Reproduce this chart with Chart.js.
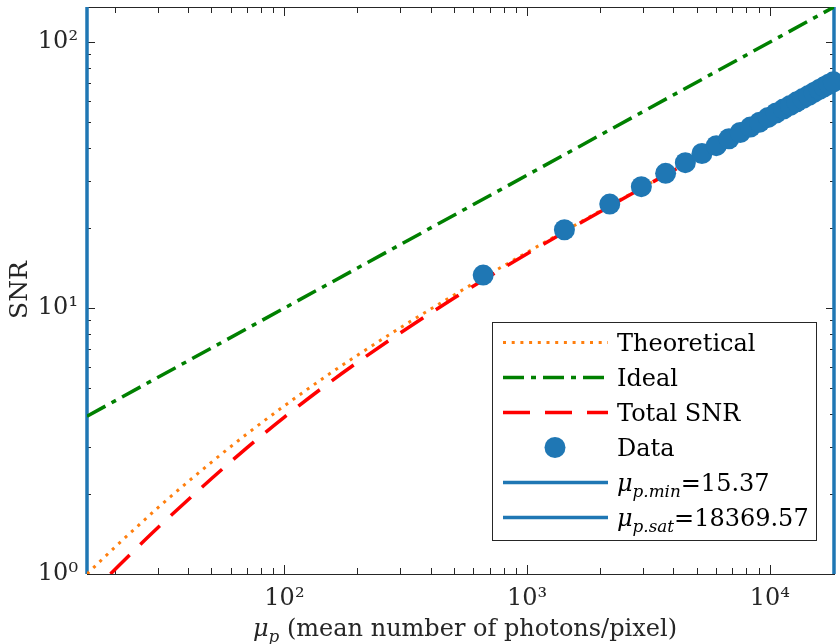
<!DOCTYPE html>
<html>
<head>
<meta charset="utf-8">
<script src="https://cdn.jsdelivr.net/npm/chart.js@4"></script>
<style>
  body { margin: 0; background: #fff; }
</style>
</head>
<body>
<canvas id="snrChart" width="840" height="644"></canvas>
<script>
// Photon range limits
const muMin = 15.37;
const muSat = 18369.57;

// Measured points
const dataMu = [659, 1424, 2189, 2954, 3719, 4484, 5249, 6014, 6779, 7544, 8309, 9074,
    9839, 10604, 11369, 12134, 12899, 13664, 14429, 15194, 15959, 16724, 17489, 18254];
const dataSnr = [13.3, 19.7, 24.6, 28.6, 32.1, 35.2, 38.1, 40.8, 43.3, 45.7, 47.9, 50.0,
    52.1, 54.1, 56.0, 57.8, 59.6, 61.3, 63.0, 64.7, 66.3, 67.9, 69.4, 70.9];

// Curves
const theoryMu = [15.37, 20, 25, 30, 50, 70, 100, 150, 200, 300, 500, 1000, 3000, 10000, 18369.57];
const theorySnr = [1.00, 1.26, 1.52, 1.77, 2.63, 3.36, 4.29, 5.58, 6.65, 8.43, 11.2, 16.2, 28.5, 52.4, 71.1];
const totalMu = [19.2, 25, 30, 50, 70, 100, 150, 200, 300, 500, 1000, 3000, 10000, 18369.57];
const totalSnr = [1.00, 1.27, 1.49, 2.28, 2.98, 3.89, 5.17, 6.25, 8.06, 10.9, 16.0, 28.4, 52.3, 71.2];
const idealMu = [15.37, 18369.57];
const idealSnr = [3.92, 135.5];

const yMin = 1;
const yMax = 135.5;

const legendLabels = ['Theoretical', 'Ideal', 'Total SNR', 'Data'];
const supers = { '0': '\u2070', '1': '\u00b9', '2': '\u00b2', '3': '\u00b3', '4': '\u2074' };

const FONT = '"DejaVu Serif", "Liberation Serif", serif';
const INK = '#262626';
const BLUE = '#1f77b4';

function pts(xs, ys) {
    return xs.map((x, i) => ({ x: x, y: ys[i] }));
}

function powLabel(v) {
    const e = Math.log10(v);
    if (Math.abs(e - Math.round(e)) > 1e-9) return '';
    return '10' + String(Math.round(e)).split('').map(c => supers[c]).join('');
}

// draw italic/sub pieces one after another
function mathWidth(ctx, parts, size) {
    let w = 0;
    parts.forEach(p => {
        ctx.font = (p.it ? 'italic ' : '') + (p.sub ? size * 0.7 : size) + 'px ' + FONT;
        w += ctx.measureText(p.t).width;
    });
    return w;
}
function drawMath(ctx, parts, x, y, size) {
    let cx = x;
    parts.forEach(p => {
        ctx.font = (p.it ? 'italic ' : '') + (p.sub ? size * 0.7 : size) + 'px ' + FONT;
        ctx.fillText(p.t, cx, y + (p.sub ? size * 0.25 : 0));
        cx += ctx.measureText(p.t).width;
    });
}

function niceTicks(scale) {
    return scale.ticks.map(t => t.value).filter(v => {
        const m = v / Math.pow(10, Math.floor(Math.log10(v) + 1e-9));
        return Math.abs(m - Math.round(m)) < 1e-6;
    });
}

const boxPlugin = {
    id: 'box',
    beforeDatasetsDraw(chart) {
        const ctx = chart.ctx;
        const a = chart.chartArea;
        const xs = chart.scales.x, ys = chart.scales.y;
        ctx.save();
        ctx.strokeStyle = INK;
        ctx.lineWidth = 1;
        ctx.strokeRect(a.left + 0.5, a.top + 0.5, a.right - a.left, a.bottom - a.top);
        ctx.beginPath();
        niceTicks(xs).forEach(v => {
            const px = Math.round(xs.getPixelForValue(v)) + 0.5;
            const len = Math.abs(Math.log10(v) - Math.round(Math.log10(v))) < 1e-9 ? 9 : 6;
            ctx.moveTo(px, a.bottom); ctx.lineTo(px, a.bottom - len);
            ctx.moveTo(px, a.top); ctx.lineTo(px, a.top + len);
        });
        niceTicks(ys).forEach(v => {
            const py = Math.round(ys.getPixelForValue(v)) + 0.5;
            const len = Math.abs(Math.log10(v) - Math.round(Math.log10(v))) < 1e-9 ? 8 : 4;
            ctx.moveTo(a.left, py); ctx.lineTo(a.left + len, py);
            ctx.moveTo(a.right, py); ctx.lineTo(a.right - len, py);
        });
        ctx.stroke();
        ctx.restore();
    },
    afterDraw(chart) {
        const ctx = chart.ctx;
        const ds = chart.data.datasets;
        ctx.save();
        ctx.fillStyle = INK;
        ctx.textBaseline = 'alphabetic';

        // axis titles
        const xTitle = [{ t: '\u03bc', it: true }, { t: 'p', it: true, sub: true },
            { t: ' (mean number of photons/pixel)' }];
        const w = mathWidth(ctx, xTitle, 24);
        drawMath(ctx, xTitle, 465 - w / 2, 636, 24);

        ctx.save();
        ctx.translate(27, 290);
        ctx.rotate(-Math.PI / 2);
        ctx.textAlign = 'center';
        ctx.font = '25px ' + FONT;
        ctx.fillText('SNR', 0, 0);
        ctx.restore();

        // legend
        const bx = 492, by = 322, bw = 324, bh = 218;
        ctx.fillStyle = '#fff';
        ctx.fillRect(bx, by, bw, bh);
        ctx.strokeStyle = INK;
        ctx.lineWidth = 1;
        ctx.strokeRect(bx + 0.5, by + 0.5, bw, bh);

        const rows = [
            { ds: ds[0], text: [{ t: legendLabels[0] }] },
            { ds: ds[1], text: [{ t: legendLabels[1] }] },
            { ds: ds[2], text: [{ t: legendLabels[2] }] },
            { ds: ds[3], text: [{ t: legendLabels[3] }], marker: true },
            { ds: ds[4], text: [{ t: '\u03bc', it: true }, { t: 'p.min', it: true, sub: true }, { t: '=' + muMin }] },
            { ds: ds[5], text: [{ t: '\u03bc', it: true }, { t: 'p.sat', it: true, sub: true }, { t: '=' + muSat }] }
        ];
        rows.forEach((r, i) => {
            const base = 351 + i * 35;
            const cy = base - 8.5;
            if (r.marker) {
                ctx.fillStyle = r.ds.backgroundColor;
                ctx.beginPath();
                ctx.arc(555, cy, r.ds.pointRadius, 0, Math.PI * 2);
                ctx.fill();
            } else {
                ctx.strokeStyle = r.ds.borderColor;
                ctx.lineWidth = r.ds.borderWidth;
                ctx.setLineDash(r.ds.borderDash || []);
                ctx.beginPath();
                ctx.moveTo(503, cy);
                ctx.lineTo(608, cy);
                ctx.stroke();
                ctx.setLineDash([]);
            }
            ctx.fillStyle = '#000';
            drawMath(ctx, r.text, 617, base, 24);
        });
        ctx.restore();
    }
};

const ctx = document.getElementById('snrChart').getContext('2d');
const snrChart = new Chart(ctx, {
    type: 'line',
    data: {
        datasets: [
            {
                label: legendLabels[0],
                data: pts(theoryMu, theorySnr),
                borderColor: '#ff7f0e',
                borderWidth: 3,
                borderDash: [3, 5.7],
                pointRadius: 0,
                cubicInterpolationMode: 'monotone',
                order: 3
            },
            {
                label: legendLabels[1],
                data: pts(idealMu, idealSnr),
                borderColor: '#008000',
                borderWidth: 3.5,
                borderDash: [21, 7, 5, 7],
                pointRadius: 0,
                order: 2
            },
            {
                label: legendLabels[2],
                data: pts(totalMu, totalSnr),
                borderColor: '#ff0000',
                borderWidth: 3.5,
                borderDash: [27, 15],
                pointRadius: 0,
                cubicInterpolationMode: 'monotone',
                order: 1
            },
            {
                label: legendLabels[3],
                data: pts(dataMu, dataSnr),
                showLine: false,
                pointRadius: 10.5,
                pointBackgroundColor: BLUE,
                backgroundColor: BLUE,
                pointBorderWidth: 0,
                clip: false,
                order: 0
            },
            {
                label: 'mu_min',
                data: pts([muMin, muMin], [yMin, yMax]),
                borderColor: BLUE,
                borderWidth: 3.5,
                pointRadius: 0,
                clip: false,
                order: 4
            },
            {
                label: 'mu_sat',
                data: pts([muSat, muSat], [yMin, yMax]),
                borderColor: BLUE,
                borderWidth: 3.5,
                pointRadius: 0,
                clip: false,
                order: 4
            }
        ]
    },
    options: {
        responsive: false,
        animation: false,
        layout: { autoPadding: false, padding: { top: 7, right: 6, left: 0, bottom: 0 } },
        plugins: { legend: { display: false }, tooltip: { enabled: false } },
        scales: {
            x: {
                type: 'logarithmic',
                min: muMin,
                max: muSat,
                grid: { display: false, drawTicks: false },
                border: { display: false },
                ticks: {
                    autoSkip: false,
                    maxRotation: 0,
                    padding: 10,
                    color: INK,
                    font: { family: FONT, size: 24 },
                    callback: v => powLabel(v)
                },
                afterFit: s => { s.height = 70; s.paddingLeft = 0; s.paddingRight = 0; }
            },
            y: {
                type: 'logarithmic',
                min: yMin,
                max: yMax,
                grid: { display: false, drawTicks: false },
                border: { display: false },
                ticks: {
                    autoSkip: false,
                    padding: 9,
                    color: INK,
                    font: { family: FONT, size: 24 },
                    callback: v => powLabel(v)
                },
                afterFit: s => { s.width = 87; s.paddingTop = 0; s.paddingBottom = 0; }
            }
        }
    },
    plugins: [boxPlugin]
});
</script>
</body>
</html>
